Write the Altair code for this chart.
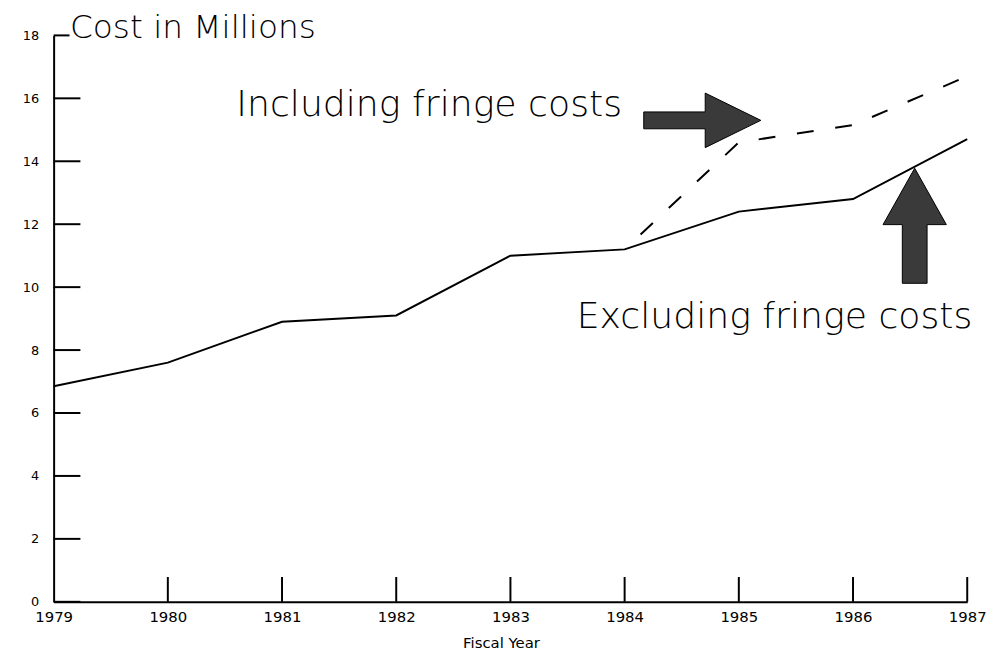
import altair as alt
import pandas as pd

# ---- data ----
years = [1979, 1980, 1981, 1982, 1983, 1984, 1985, 1986, 1987]
excl_values = [6.85, 7.6, 8.9, 9.1, 11.0, 11.2, 12.4, 12.8, 14.7]
incl_years = [1984, 1985, 1986, 1987]
incl_values = [11.2, 14.6, 15.15, 16.7]
y_ticks = [0, 2, 4, 6, 8, 10, 12, 14, 16, 18]

note_labels = ["Including fringe costs", "Excluding fringe costs"]
note_years = [1980.6, 1983.58]
note_values = [15.8, 9.05]

right_arrow_year = [1984.68]
right_arrow_value = [15.3]
up_arrow_year = [1986.54]
up_arrow_value = [11.95]

FONT = "DejaVu Sans"
W, H = 921, 571

solid = pd.DataFrame({"year": years, "v": excl_values})
dashed = pd.DataFrame({"year": incl_years, "v": incl_values})
yt = pd.DataFrame({"v": y_ticks[:-1]})
yt_top = pd.DataFrame({"v": y_ticks[-1:]})
xt = pd.DataFrame({"year": years[1:]})
notes = pd.DataFrame({"label": note_labels, "year": note_years, "v": note_values})
ra = pd.DataFrame({"year": right_arrow_year, "v": right_arrow_value})
ua = pd.DataFrame({"year": up_arrow_year, "v": up_arrow_value})

xaxis = alt.Axis(values=years, format="d", ticks=False, grid=False,
                 domainColor="black", domainWidth=2,
                 labelFont=FONT, labelFontSize=15, labelColor="black",
                 labelPadding=8, labelFlush=False, labelOverlap=False,
                 title="Fiscal Year", titleFont=FONT, titleFontSize=15,
                 titleFontWeight="normal", titleColor="black",
                 titleX=451, titleY=41, titleBaseline="middle")
yaxis = alt.Axis(values=y_ticks, ticks=False, grid=False,
                 domainColor="black", domainWidth=2,
                 labelFont=FONT, labelFontSize=13, labelColor="black",
                 labelPadding=15, labelFlush=False, labelOverlap=False,
                 title="Cost in Millions", titleFont=FONT, titleFontSize=33,
                 titleFontWeight=200, titleColor="black",
                 titleAngle=0, titleAlign="left", titleBaseline="alphabetic",
                 titleX=16, titleY=2)

xs = alt.Scale(domain=[1979, 1987], nice=False, zero=False)
ys = alt.Scale(domain=[0, 18], nice=False, zero=False)

def X():
    return alt.X("year:Q", scale=xs, axis=xaxis)

def Y():
    return alt.Y("v:Q", scale=ys, axis=yaxis)

l_solid = alt.Chart(solid).mark_line(color="black", strokeWidth=2).encode(x=X(), y=Y())
l_dash = alt.Chart(dashed).mark_line(color="black", strokeWidth=2,
                                     strokeDash=[17, 22], strokeDashOffset=17).encode(x=X(), y=Y())

r_yt = alt.Chart(yt).mark_rule(color="black", strokeWidth=2).encode(
    y=Y(), x=alt.value(0), x2=alt.value(27))
r_yt_top = alt.Chart(yt_top).mark_rule(color="black", strokeWidth=2).encode(
    y=Y(), x=alt.value(0), x2=alt.value(16))
r_xt = alt.Chart(xt).mark_rule(color="black", strokeWidth=2).encode(
    x=X(), y=alt.value(H), y2=alt.value(H - 25))

t_notes = alt.Chart(notes).mark_text(align="left", baseline="middle", font=FONT,
                                     fontSize=36.5, fontWeight=200, color="black").encode(
    x=X(), y=Y(), text="label:N")

right_path = "M-1,-0.144 L0.05,-0.144 L0.05,-0.466 L1,0 L0.05,0.466 L0.05,0.144 L-1,0.144 Z"
up_path = "M0,-1 L0.55,-0.02 L0.215,-0.02 L0.215,1 L-0.215,1 L-0.215,-0.02 L-0.55,-0.02 Z"

p_right = alt.Chart(ra).mark_point(shape=right_path, filled=True, fill="#3a3a3a",
                                   stroke="black", strokeWidth=1, opacity=1,
                                   size=118 * 118).encode(x=X(), y=Y())
p_up = alt.Chart(ua).mark_point(shape=up_path, filled=True, fill="#3a3a3a",
                                stroke="black", strokeWidth=1, opacity=1,
                                size=116 * 116).encode(x=X(), y=Y())

chart = alt.layer(l_solid, l_dash, r_yt, r_yt_top, r_xt, t_notes, p_right, p_up).properties(
    width=W, height=H,
    padding={"left": 46, "top": 25, "right": 28, "bottom": 50},
    autosize=alt.AutoSizeParams(type="none"),
    background="white",
).configure_view(strokeWidth=0)

chart.save("out.html", embed_options={"renderer": "svg", "actions": False})
